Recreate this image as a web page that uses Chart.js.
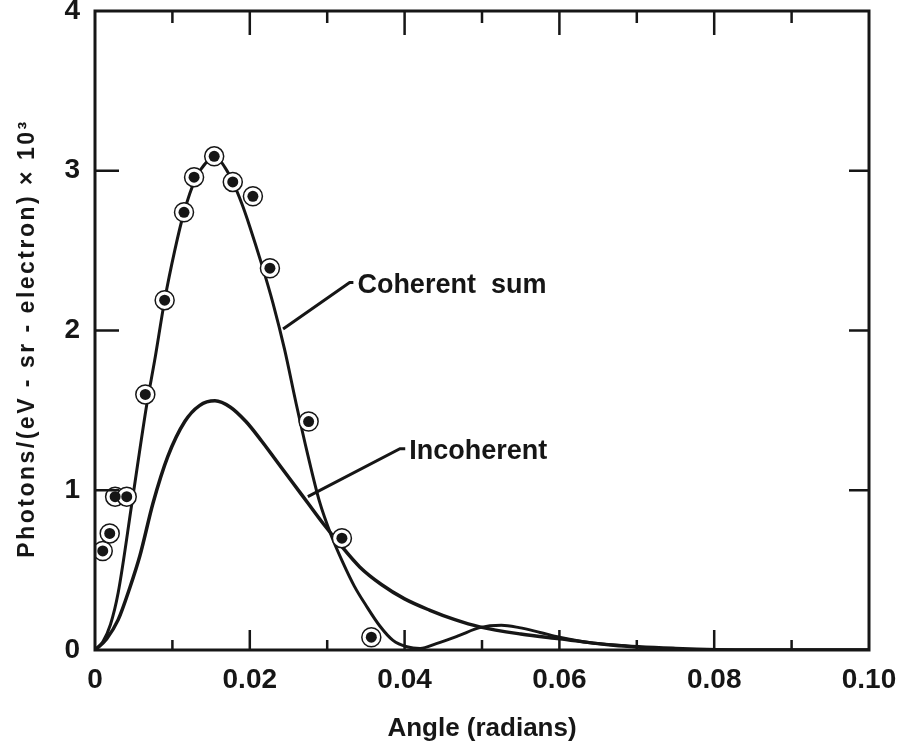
<!DOCTYPE html>
<html lang="en">
<head>
    <meta charset="UTF-8">
    <title>Coherent and incoherent photon emission vs angle</title>
    <script src="https://cdn.jsdelivr.net/npm/chart.js"></script>
    <style>
        body { margin: 0; background: #fff; }
    </style>
</head>
<body>
    <canvas id="angleChart" width="904" height="756"></canvas>

    <script>
        // Data (angle in radians, photons x 10^3)
        const coherentX = [0, 0.001, 0.002, 0.003, 0.0048, 0.0067, 0.0077, 0.009, 0.0103, 0.0115, 0.013, 0.0145, 0.0155, 0.0168, 0.0178, 0.019, 0.020, 0.0215, 0.023, 0.0245, 0.026, 0.0275, 0.029, 0.0305, 0.032, 0.0335, 0.035, 0.0368, 0.0385, 0.0403, 0.042, 0.0441, 0.047, 0.0497, 0.0525, 0.0548, 0.0575, 0.060, 0.064, 0.0677, 0.072, 0.078, 0.100];
        const coherentY = [0, 0.05, 0.16, 0.36, 0.93, 1.54, 1.81, 2.19, 2.50, 2.74, 2.95, 3.06, 3.09, 3.02, 2.93, 2.79, 2.65, 2.42, 2.17, 1.88, 1.54, 1.22, 0.93, 0.72, 0.55, 0.40, 0.28, 0.15, 0.06, 0.02, 0.01, 0.04, 0.09, 0.14, 0.155, 0.14, 0.11, 0.08, 0.045, 0.03, 0.01, 0, 0];

        const incoherentX = [0, 0.0015, 0.003, 0.0045, 0.0058, 0.0075, 0.0094, 0.0116, 0.0135, 0.0155, 0.0175, 0.0195, 0.0215, 0.0235, 0.0255, 0.0275, 0.0295, 0.0315, 0.0342, 0.037, 0.040, 0.0432, 0.0465, 0.0497, 0.055, 0.060, 0.067, 0.075, 0.085, 0.100];
        const incoherentY = [0, 0.07, 0.19, 0.39, 0.59, 0.92, 1.21, 1.43, 1.53, 1.56, 1.52, 1.43, 1.31, 1.18, 1.05, 0.92, 0.79, 0.67, 0.52, 0.41, 0.32, 0.25, 0.19, 0.145, 0.10, 0.07, 0.03, 0.01, 0, 0];

        const measuredX = [0.0010, 0.0019, 0.0026, 0.0041, 0.0065, 0.0090, 0.0115, 0.0128, 0.0154, 0.0178, 0.0204, 0.0226, 0.0276, 0.0319, 0.0357];
        const measuredY = [0.62, 0.73, 0.96, 0.96, 1.60, 2.19, 2.74, 2.96, 3.09, 2.93, 2.84, 2.39, 1.43, 0.70, 0.08];

        const xMajorTicks = [0.02, 0.04, 0.06, 0.08];
        const xMinorTicks = [0.01, 0.03, 0.05, 0.07, 0.09];
        const yMajorTicks = [1, 2, 3];

        // curve labels: text anchor and leader line (start, knee), in data units
        const curveLabels = [
            { text: 'Coherent  sum', at: [0.0339, 2.28], from: [0.0243, 2.01], knee: [0.0329, 2.30] },
            { text: 'Incoherent', at: [0.0406, 1.24], from: [0.0275, 0.96], knee: [0.0394, 1.26] }
        ];

        const yTitle = 'Photons/(eV - sr - electron) \u00d7 10\u00b3';

        const ink = '#161616';
        const fontFamily = '"Liberation Sans", Arial, sans-serif';

        function toPoints(xs, ys) {
            return xs.map((x, i) => ({ x: x, y: ys[i] }));
        }

        // frame with inward ticks, like the printed figure
        const frameTicks = {
            id: 'frameTicks',
            afterDraw(chart) {
                const { ctx, chartArea: a, scales: { x, y } } = chart;
                ctx.save();
                ctx.strokeStyle = ink;
                ctx.lineWidth = 3;
                ctx.strokeRect(a.left, a.top, a.right - a.left, a.bottom - a.top);
                ctx.lineWidth = 2.5;
                ctx.beginPath();
                xMajorTicks.forEach(v => {
                    const px = x.getPixelForValue(v);
                    ctx.moveTo(px, a.bottom); ctx.lineTo(px, a.bottom - 20);
                    ctx.moveTo(px, a.top); ctx.lineTo(px, a.top + 24);
                });
                xMinorTicks.forEach(v => {
                    const px = x.getPixelForValue(v);
                    ctx.moveTo(px, a.bottom); ctx.lineTo(px, a.bottom - 10);
                    ctx.moveTo(px, a.top); ctx.lineTo(px, a.top + 12);
                });
                yMajorTicks.forEach(v => {
                    const py = y.getPixelForValue(v);
                    ctx.moveTo(a.left, py); ctx.lineTo(a.left + 24, py);
                    ctx.moveTo(a.right, py); ctx.lineTo(a.right - 20, py);
                });
                ctx.stroke();
                ctx.restore();
            }
        };

        const curveLabelPlugin = {
            id: 'curveLabels',
            afterDatasetsDraw(chart) {
                const { ctx, chartArea: a, scales: { x, y } } = chart;
                ctx.save();
                ctx.strokeStyle = ink;
                ctx.fillStyle = ink;
                ctx.lineWidth = 3;
                ctx.font = 'bold 27px ' + fontFamily;
                ctx.textBaseline = 'middle';
                curveLabels.forEach(l => {
                    ctx.beginPath();
                    ctx.moveTo(x.getPixelForValue(l.from[0]), y.getPixelForValue(l.from[1]));
                    ctx.lineTo(x.getPixelForValue(l.knee[0]), y.getPixelForValue(l.knee[1]));
                    ctx.lineTo(x.getPixelForValue(l.at[0]) - 4, y.getPixelForValue(l.knee[1]));
                    ctx.stroke();
                    ctx.fillText(l.text, x.getPixelForValue(l.at[0]), y.getPixelForValue(l.at[1]));
                });

                // rotated y axis title, letter-spaced like the print
                ctx.translate(28, (a.top + a.bottom) / 2 + 8);
                ctx.rotate(-Math.PI / 2);
                ctx.font = 'bold 23px ' + fontFamily;
                ctx.letterSpacing = '2.5px';
                ctx.textAlign = 'center';
                ctx.fillText(yTitle, 0, 0);
                ctx.restore();
            }
        };

        const ctx = document.getElementById('angleChart').getContext('2d');
        new Chart(ctx, {
            type: 'scatter',
            data: {
                // first dataset is drawn last (on top)
                datasets: [
                    {
                        label: 'Measured',
                        data: toPoints(measuredX, measuredY),
                        pointRadius: 5.5,
                        pointBackgroundColor: ink,
                        pointBorderWidth: 0
                    },
                    {
                        label: 'Measured (ring)',
                        data: toPoints(measuredX, measuredY),
                        pointRadius: 9.5,
                        pointBackgroundColor: '#fff',
                        pointBorderColor: ink,
                        pointBorderWidth: 1.5
                    },
                    {
                        label: 'Coherent sum',
                        data: toPoints(coherentX, coherentY),
                        showLine: true,
                        borderColor: ink,
                        borderWidth: 3,
                        pointRadius: 0,
                        cubicInterpolationMode: 'monotone'
                    },
                    {
                        label: 'Incoherent',
                        data: toPoints(incoherentX, incoherentY),
                        showLine: true,
                        borderColor: ink,
                        borderWidth: 3.5,
                        pointRadius: 0,
                        cubicInterpolationMode: 'monotone'
                    }
                ]
            },
            options: {
                responsive: false,
                animation: false,
                devicePixelRatio: 1,
                layout: { padding: { top: 11, right: 35, left: 0, bottom: 0 } },
                plugins: {
                    legend: { display: false },
                    tooltip: { enabled: false }
                },
                scales: {
                    x: {
                        type: 'linear',
                        min: 0,
                        max: 0.1,
                        afterFit: s => {
                            s.height = 106;
                            s.paddingLeft = 0;
                            s.paddingRight = 0;
                        },
                        grid: { display: false, drawTicks: false },
                        border: { display: false },
                        ticks: {
                            stepSize: 0.02,
                            padding: 13,
                            color: ink,
                            font: { family: fontFamily, size: 28, weight: 'bold' },
                            callback: v => (v === 0 ? '0' : v.toFixed(2))
                        },
                        title: {
                            display: true,
                            text: 'Angle (radians)',
                            color: ink,
                            padding: { top: 0, bottom: 12 },
                            font: { family: fontFamily, size: 26, weight: 'bold' }
                        }
                    },
                    y: {
                        min: 0,
                        max: 4,
                        afterFit: s => {
                            s.width = 95;
                            s.paddingTop = 0;
                            s.paddingBottom = 0;
                        },
                        grid: { display: false, drawTicks: false },
                        border: { display: false },
                        ticks: {
                            stepSize: 1,
                            padding: 15,
                            color: ink,
                            font: { family: fontFamily, size: 28, weight: 'bold' }
                        }
                    }
                }
            },
            plugins: [frameTicks, curveLabelPlugin]
        });
    </script>
</body>
</html>
